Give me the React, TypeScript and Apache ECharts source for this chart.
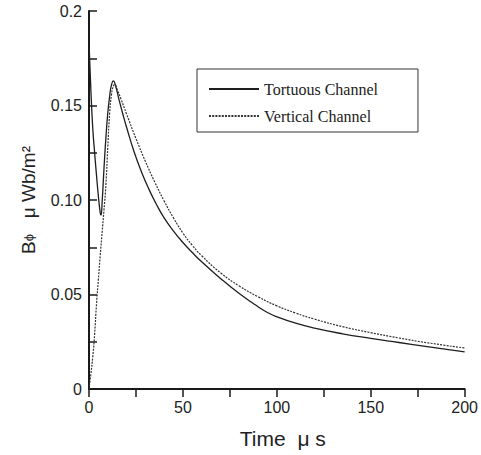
import React, { useEffect, useRef } from "react";
import * as echarts from "echarts";

// Time (µs) and B-phi (µWb/m²)
const tortuousT = [0, 1, 2, 3, 4, 5, 6, 6.4, 7, 8, 9, 10, 11, 12, 13, 14, 16, 18, 20, 24, 28, 32, 36, 40, 45, 50, 55, 60, 70, 80, 90, 95, 100, 110, 120, 135, 150, 165, 180, 200];
const tortuousB = [0.183, 0.158, 0.138, 0.125, 0.113, 0.102, 0.093, 0.092, 0.099, 0.117, 0.133, 0.146, 0.155, 0.161, 0.163, 0.161, 0.153, 0.1455, 0.1385, 0.1255, 0.1147, 0.1055, 0.0975, 0.0905, 0.0835, 0.0775, 0.0722, 0.0673, 0.0585, 0.0505, 0.0435, 0.0405, 0.0382, 0.0348, 0.0322, 0.0292, 0.0268, 0.0246, 0.0224, 0.0196];

const verticalT = [0, 1, 2, 3, 4, 5, 6, 7, 8, 9, 10, 11, 12, 13, 13.7, 15, 17, 20, 25, 30, 35, 40, 45, 50, 55, 60, 70, 80, 90, 100, 110, 120, 135, 150, 165, 180, 200];
const verticalB = [0, 0.008, 0.017, 0.029, 0.045, 0.058, 0.071, 0.083, 0.095, 0.108, 0.128, 0.146, 0.156, 0.1605, 0.161, 0.1585, 0.1535, 0.1455, 0.1325, 0.1205, 0.1095, 0.0995, 0.0905, 0.0825, 0.076, 0.0705, 0.0615, 0.0545, 0.0488, 0.044, 0.0402, 0.037, 0.033, 0.0298, 0.027, 0.0245, 0.0217];

const seriesNames = ["Tortuous Channel", "Vertical Channel"];
const xTickValues = [0, 50, 100, 150, 200];
const xTickLabels = ["0", "50", "100", "150", "200"];
const yTickValues = [0, 0.05, 0.1, 0.15, 0.2];
const yTickLabels = ["0", "0.05", "0.10", "0.15", "0.2"];

function labelFor(v: number, values: number[], labels: string[]) {
  for (let i = 0; i < values.length; i++) {
    if (Math.abs(values[i] - v) < 1e-9) return labels[i];
  }
  return "";
}

export default function App() {
  const ref = useRef<HTMLDivElement>(null);
  useEffect(() => {
    if (!ref.current) return;
    const chart = echarts.init(ref.current, undefined, { renderer: "svg" });
    const axisColor = "#1a1a1a";
    const labelFont = "'Liberation Sans', Arial, sans-serif";
    chart.setOption({
      animation: false,
      backgroundColor: "#ffffff",
      grid: { left: 89, top: 11, width: 379, height: 378, containLabel: false },
      legend: {
        orient: "vertical",
        left: 197,
        top: 69,
        data: seriesNames,
        borderColor: "#333",
        borderWidth: 1,
        padding: [11, 40, 7, 11],
        itemWidth: 50,
        itemHeight: 14,
        itemGap: 9,
        itemStyle: { opacity: 0 },
        textStyle: {
          fontFamily: "'Liberation Serif', 'Times New Roman', serif",
          fontSize: 16,
          color: "#222",
          lineHeight: 18,
        },
      },
      xAxis: {
        type: "value",
        min: 0,
        max: 200,
        interval: 25,
        name: "Time  μ s",
        nameLocation: "middle",
        nameGap: 39,
        nameTextStyle: { fontFamily: labelFont, fontSize: 21, color: "#222", padding: [0, 0, 0, 12] },
        axisLine: { show: true, lineStyle: { color: axisColor, width: 2 } },
        axisTick: { show: true, inside: false, length: 8, lineStyle: { color: axisColor, width: 1.5 } },
        axisLabel: {
          margin: 10,
          fontFamily: labelFont,
          fontSize: 16,
          color: "#222",
          formatter: (v: number) => labelFor(v, xTickValues, xTickLabels),
        },
        splitLine: { show: false },
      },
      yAxis: {
        type: "value",
        min: 0,
        max: 0.2,
        interval: 0.025,
        name: "{b|B}{p|ϕ}   μ Wb/m²",
        nameLocation: "middle",
        nameRotate: 90,
        nameGap: 51,
        nameTextStyle: {
          fontFamily: labelFont,
          fontSize: 19,
          color: "#222",
          rich: {
            b: { fontFamily: labelFont, fontSize: 19, color: "#222" },
            p: { fontFamily: labelFont, fontSize: 13, color: "#222" },
          },
        },
        axisLine: { show: true, lineStyle: { color: axisColor, width: 2 } },
        axisTick: { show: true, inside: true, length: 8, lineStyle: { color: axisColor, width: 1.5 } },
        axisLabel: {
          margin: 7,
          fontFamily: labelFont,
          fontSize: 16,
          color: "#222",
          formatter: (v: number) => labelFor(v, yTickValues, yTickLabels),
        },
        splitLine: { show: false },
      },
      series: [
        {
          name: seriesNames[0],
          type: "line",
          data: tortuousT.map((t, i) => [t, tortuousB[i]]),
          symbol: "none",
          smooth: 0.5,
          lineStyle: { color: "#1e1e1e", width: 1.3, type: "solid" },
          itemStyle: { color: "#1e1e1e" },
        },
        {
          name: seriesNames[1],
          type: "line",
          data: verticalT.map((t, i) => [t, verticalB[i]]),
          symbol: "none",
          smooth: 0.5,
          lineStyle: { color: "#333", width: 1.2, type: [2, 1.2] },
          itemStyle: { color: "#333" },
        },
      ],
    });
    return () => chart.dispose();
  }, []);
  return (
    <div
      ref={ref}
      style={{ position: "absolute", left: 0, top: 0, width: 481, height: 455 }}
    />
  );
}
